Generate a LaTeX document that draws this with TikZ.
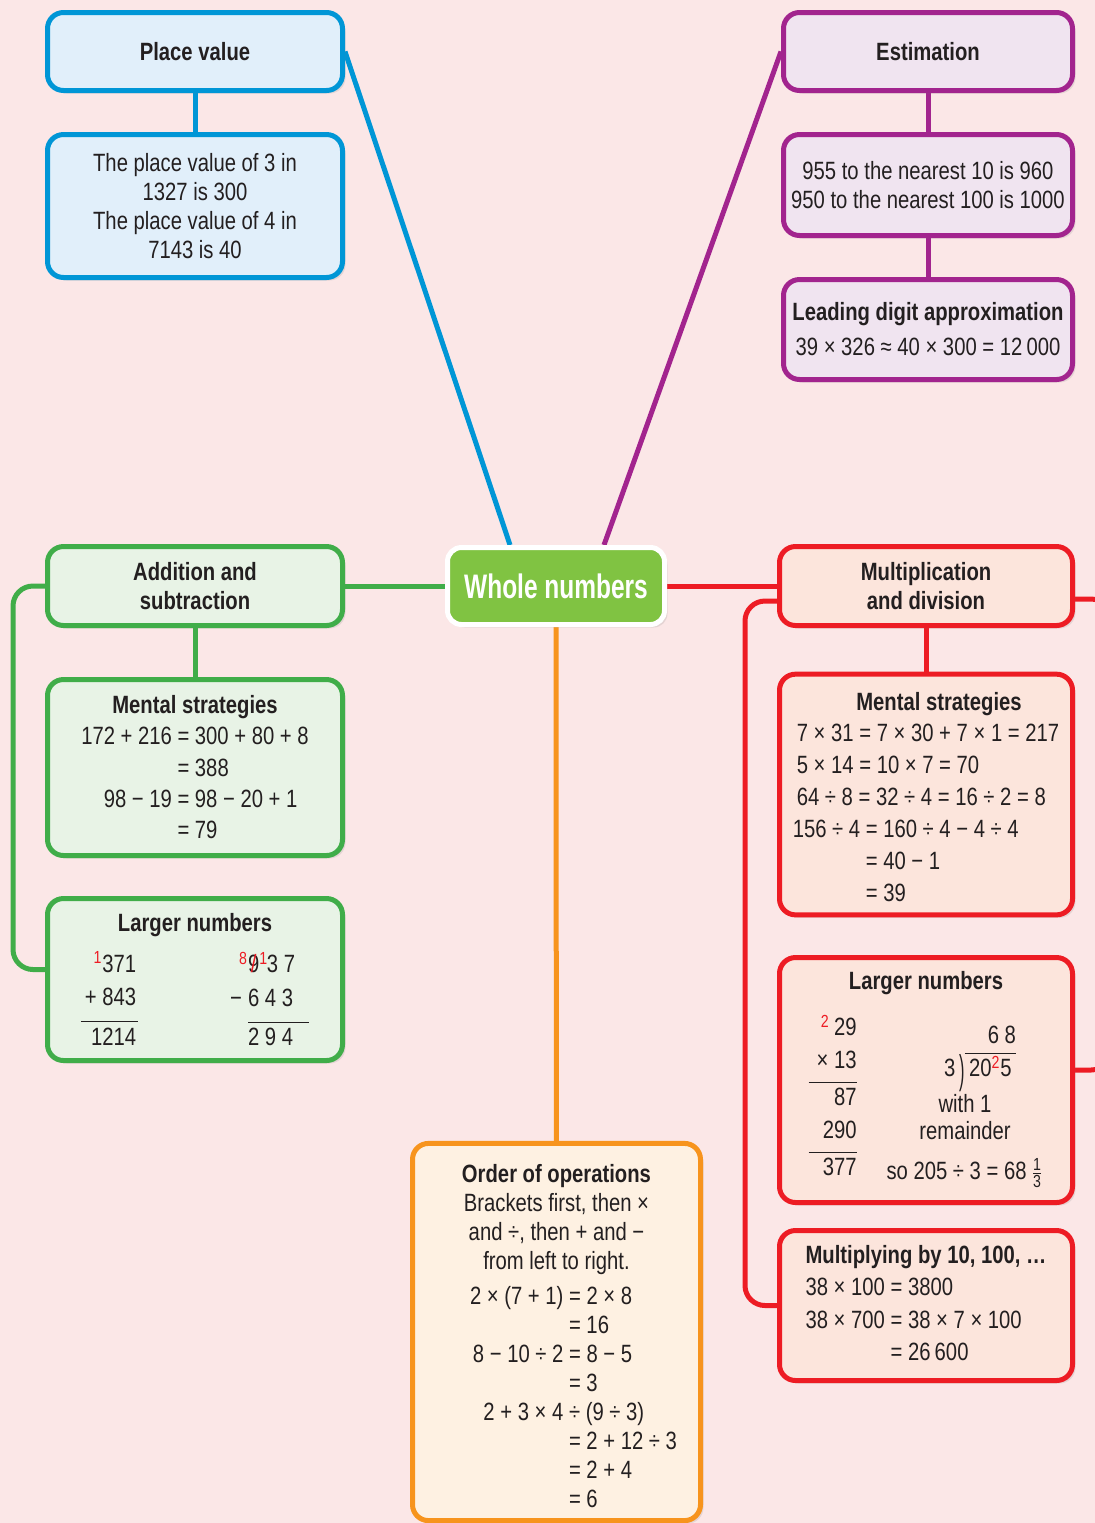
\documentclass[tikz,border=0pt]{standalone}
\usepackage{amsmath}
\usepackage{graphicx}
\usepackage{fontspec}
\setmainfont{Liberation Sans}[FakeStretch=0.81]
\newfontfamily\headfont{Liberation Sans}[FakeStretch=0.72]
\usepackage{tikz}
\usetikzlibrary{shadows}

\definecolor{bgpink}{RGB}{251,231,231}
\definecolor{inkdark}{RGB}{35,31,32}
\definecolor{pvblue}{RGB}{0,150,214}
\definecolor{pvfill}{RGB}{225,239,250}
\definecolor{estpurple}{RGB}{162,36,142}
\definecolor{estfill}{RGB}{240,228,240}
\definecolor{addgreen}{RGB}{64,173,73}
\definecolor{addfill}{RGB}{232,243,230}
\definecolor{mulred}{RGB}{237,28,36}
\definecolor{mulfill}{RGB}{252,229,220}
\definecolor{ordorange}{RGB}{247,148,29}
\definecolor{ordfill}{RGB}{254,241,226}
\definecolor{wholegreen}{RGB}{128,195,66}

\newcommand\carry[1]{\textcolor{mulred}{\textsuperscript{#1}}}

\pgfdeclarelayer{bg}
\pgfdeclarelayer{lines}
\pgfsetlayers{bg,lines,main}

\begin{document}
\begin{tikzpicture}[x=0.5pt,y=-0.5pt,
    font=\fontsize{12.5}{14.5}\selectfont,text=inkdark,
    box/.style={rectangle,rounded corners=8pt,line width=2.5pt,align=center,inner sep=2pt,
        drop shadow={opacity=0.18,shadow xshift=1.5pt,shadow yshift=-1.5pt}},
    bluebox/.style={box,draw=pvblue,fill=pvfill,minimum width=147.5pt},
    purplebox/.style={box,draw=estpurple,fill=estfill,minimum width=144.5pt},
    greenbox/.style={box,draw=addgreen,fill=addfill,minimum width=147.5pt},
    redbox/.style={box,draw=mulred,fill=mulfill,minimum width=146.5pt},
    orangebox/.style={box,draw=ordorange,fill=ordfill,minimum width=144pt},
    head/.style={font=\fontsize{12.5}{14.5}\selectfont\bfseries},
    link/.style={line width=2.5pt},
    bracket/.style={link,rounded corners=10pt}]
\useasboundingbox (0,0) rectangle (1095,1523);

\node at (556,586)[rectangle,rounded corners=7pt,line width=2.5pt,draw=white,fill=wholegreen,
    minimum width=108.5pt,minimum height=38.5pt,text=white,
    font=\headfont\fontsize{17}{20}\selectfont\bfseries,
    drop shadow={opacity=0.18,shadow xshift=1.5pt,shadow yshift=-1.5pt}] (whole) {Whole numbers};

\node at (195,51.5)[bluebox,minimum height=39pt,head] (placevalue) {Place value};
\node at (195,206)[bluebox,minimum height=71.5pt] (pvexample) {The place value of 3 in\\1327 is 300\\The place value of 4 in\\7143 is 40};

\node at (928,51.5)[purplebox,minimum height=39pt,head] (estimation) {Estimation};
\node at (928,185)[purplebox,minimum height=50.5pt] (rounding) {955 to the nearest 10 is 960\\950 to the nearest 100 is 1000};
\node at (928,329.5)[purplebox,minimum height=50pt] (leading) {\textbf{Leading digit approximation}\\[3pt]39 × 326 ≈ 40 × 300 = 12\,000};

\node at (195,586)[greenbox,minimum height=39.5pt,head] (addsub) {Addition and\\subtraction};
\node at (195,767.5)[greenbox,minimum height=88pt] (addmental) {\rule{0pt}{13.5pt}\textbf{Mental strategies}\\[1pt]
    \renewcommand{\arraystretch}{1.08}%
    \begin{tabular}{@{}r@{ }l@{}}
    172 + 216 & = 300 + 80 + 8\\
     & = 388\\
    98 − 19 & = 98 − 20 + 1\\
     & = 79
    \end{tabular}};
\node at (195,979.5)[greenbox,minimum height=81pt] (addlarger) {\rule{0pt}{14pt}\textbf{Larger numbers}\\[5pt]
    \renewcommand{\arraystretch}{1.15}%
    \begin{tabular}[b]{@{\hspace{2pt}}r@{\hspace{1pt}}}
    \carry{1}371\\
    + 843\\[3pt] \hline
    1214
    \end{tabular}\hspace{46pt}%
    \begin{tabular}[b]{@{}r@{\hspace{3pt}}l@{\hspace{7pt}}}
     & \llap{\carry{8}}\ooalign{9\cr\hidewidth\textcolor{mulred}{/}\hidewidth\cr}\rlap{\carry{1}}\hspace{1pt} 3 7\\
    − & 6 4 3\\[3pt] \cline{2-2}
     & 2 9 4
    \end{tabular}};

\node at (926,586)[redbox,minimum height=39.5pt,head] (muldiv) {Multiplication\\and division};
\node at (926,794.5)[redbox,minimum height=118pt] (mulmental) {\rule{0pt}{16pt}\hspace*{13pt}\textbf{Mental strategies}\\[1pt]
    \renewcommand{\arraystretch}{1.1}%
    \begin{tabular}{@{}r@{ }l@{}}
    \multicolumn{2}{@{\hspace{2pt}}l@{}}{7 × 31 = 7 × 30 + 7 × 1 = 217}\\
    \multicolumn{2}{@{\hspace{2pt}}l@{}}{5 × 14 = 10 × 7 = 70}\\
    \multicolumn{2}{@{\hspace{2pt}}l@{}}{64 ÷ 8 = 32 ÷ 4 = 16 ÷ 2 = 8}\\
    156 ÷ 4 & = 160 ÷ 4 − 4 ÷ 4\\
     & = 40 − 1\\
     & = 39
    \end{tabular}};
\node at (926,1080)[redbox,minimum height=122.5pt] (mullarger) {\textbf{Larger numbers}\\[8pt]
    \renewcommand{\arraystretch}{1.12}%
    \begin{tabular}[b]{@{\hspace{4pt}}r@{}}
    \carry{2}\,29\\
    × 13\\[2pt] \hline
    87\\
    290\\[2pt] \hline
    377
    \end{tabular}\hspace{15pt}%
    \renewcommand{\arraystretch}{1}%
    \raisebox{-2pt}{\begin{tabular}[b]{@{}c@{}}
    \renewcommand{\arraystretch}{1.15}%
    \hspace*{15pt}\begin{tabular}{@{}r@{}l@{}}
     & \hfill 6 8\\ \cline{2-2}
    3\,\raisebox{-3.5pt}{\scalebox{0.8}[1.6]{)}} & \,20\carry{2}5\,
    \end{tabular}\\[5pt]
    with 1\\[-1pt]
    remainder\\[5pt]
    so 205 ÷ 3 = 68\,$\frac{\text{1}}{\text{3}}$
    \end{tabular}}};
\node at (926,1305.5)[redbox,minimum height=75pt,align=left] (multen) {%
    \renewcommand{\arraystretch}{1.12}%
    \begin{tabular}{@{}l@{}}
    \textbf{Multiplying by 10, 100, …}\\
    38 × 100 = 3800\\
    38 × 700 = 38 × 7 × 100\\
    \phantom{38 × 700 }= 26\,600
    \end{tabular}};

\node at (556.5,1332)[orangebox,minimum height=187.5pt] (order) {\rule{0pt}{17.5pt}\textbf{Order of operations}\\
    Brackets first, then ×\\
    and ÷, then + and −\\
    from left to right.\\[4pt]
    \hspace*{17pt}\begin{tabular}{@{}r@{ }l@{}}
    2 × (7 + 1) & = 2 × 8\\
     & = 16\\
    8 − 10 ÷ 2 & = 8 − 5\\
     & = 3\\
    2 + 3 × 4 & ÷ (9 ÷ 3)\\
     & = 2 + 12 ÷ 3\\
     & = 2 + 4\\
     & = 6
    \end{tabular}};

\begin{pgfonlayer}{bg}
\fill[bgpink] (0,0) rectangle (1095,1523);
\end{pgfonlayer}

\begin{pgfonlayer}{lines}
\draw[link,pvblue] (placevalue) -- (pvexample);
\draw[link,pvblue] (placevalue.east) -- ([xshift=-23pt]whole.north);
\draw[link,estpurple] (estimation) -- (rounding);
\draw[link,estpurple] (rounding) -- (leading);
\draw[link,estpurple] (estimation.west) -- ([xshift=24pt]whole.north);
\draw[link,addgreen] (addsub) -- (whole);
\draw[link,addgreen] (addsub) -- (addmental);
\draw[bracket,addgreen] (addsub.west) -- ++(-32,0) |- ([yshift=5pt]addlarger.west);
\draw[link,mulred] (whole) -- (muldiv);
\draw[link,mulred] (muldiv) -- (mulmental);
\draw[bracket,mulred] ([yshift=-7.5pt]muldiv.west) -- ++(-32,0) |- (multen.west);
\draw[bracket,mulred] ([yshift=-6.5pt]muldiv.east) -- ++(36,0) |- ([yshift=5pt]mullarger.east);
\draw[link,ordorange] (whole) -- (order);
\end{pgfonlayer}
\end{tikzpicture}
\end{document}
